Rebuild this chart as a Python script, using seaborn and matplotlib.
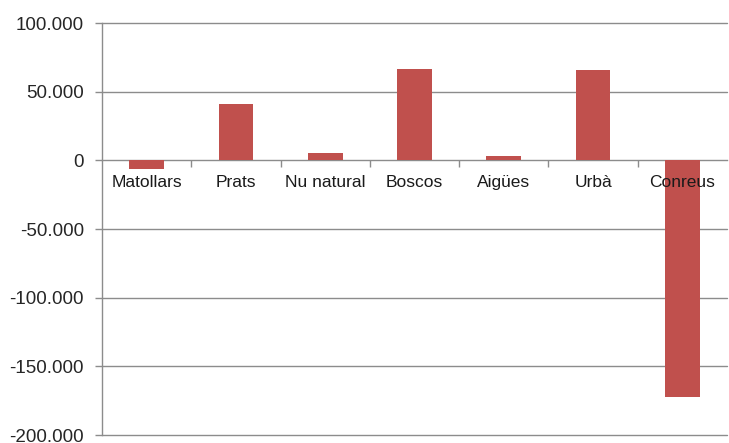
import matplotlib
matplotlib.use("Agg")
import matplotlib.pyplot as plt
import matplotlib.ticker as mticker
import seaborn as sns
import pandas as pd

categories = ["Matollars", "Prats", "Nu natural", "Boscos", "Aigües", "Urbà", "Conreus"]
values = [-6500, 41000, 5000, 66300, 2800, 65500, -172500]
yticks = [-200000, -150000, -100000, -50000, 0, 50000, 100000]

sns.set_style("white")
plt.rcParams['font.family'] = ['Liberation Sans', 'DejaVu Sans']

df = pd.DataFrame({"cat": categories, "val": values})

fig = plt.figure(figsize=(7.29, 4.43), dpi=100)
ax = fig.add_axes([102/729, 1-435/443, 1-102/729-2/729, (435-23)/443])

sns.barplot(data=df, x="cat", y="val", color="#C0504D", width=0.39, saturation=1,
            linewidth=0, ax=ax, zorder=3)

ax.set_ylim(-200000, 100000)
ax.set_xlim(-0.5, 6.5)
ax.set_yticks(yticks)
ax.yaxis.set_major_formatter(mticker.FuncFormatter(lambda v, p: f"{int(v):,}".replace(",", ".")))
ax.tick_params(axis='y', labelsize=13.5, length=5, width=1, color="#8c8c8c", pad=8, labelcolor="#262626", direction='out', left=True)
for y in yticks:
    if y != 0:
        ax.axhline(y, color="#8c8c8c", lw=1, zorder=1, clip_on=False)

# category axis at y = 0
for s in ["top", "right"]:
    ax.spines[s].set_visible(False)
ax.spines['left'].set_color("#8c8c8c")
ax.spines['left'].set_linewidth(1)
ax.spines['bottom'].set_position(('data', 0))
ax.spines['bottom'].set_color("#8c8c8c")
ax.spines['bottom'].set_linewidth(1)
ax.spines['bottom'].set_zorder(2)
ax.set_xticks([i + 0.5 for i in range(len(categories) - 1)])
ax.set_xticklabels([])
ax.tick_params(axis='x', length=5, width=1, color="#8c8c8c", direction='out', bottom=True)
ax.set_xlabel("")
ax.set_ylabel("")

for i, c in enumerate(categories):
    ax.annotate(c, xy=(i, 0), xytext=(0, -16), textcoords="offset points",
                ha="center", va="center", fontsize=12.5, color="#1a1a1a", zorder=5)

fig.savefig("out.png", dpi=100)
